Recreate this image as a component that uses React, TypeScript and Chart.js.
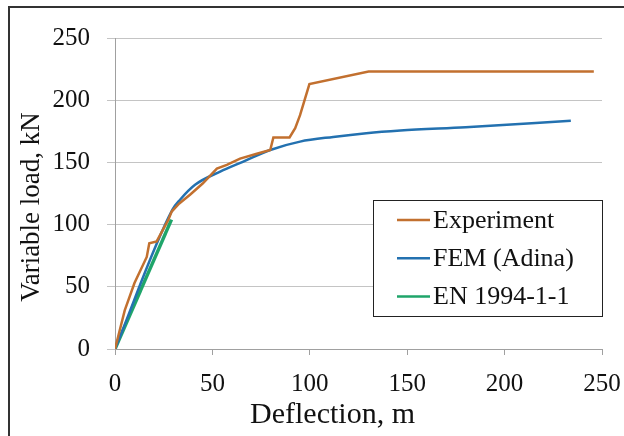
import React, { useEffect, useRef } from "react";
import { Chart, registerables } from "chart.js";

Chart.register(...registerables);

const seriesNames = ["Experiment", "FEM (Adina)", "EN 1994-1-1"];
const expX = [0, 5, 10, 16.3, 17.6, 21.4, 27.4, 29.1, 33, 38.5, 45, 52.3, 57.4, 64.2, 72.8, 79.7, 81.3, 89.6, 92.5, 95, 99.8, 130.2, 245.8];
const expY = [0, 31, 53, 74, 85, 86.5, 104, 110.5, 117, 124, 133, 145, 148, 153, 157, 160, 170, 170, 177.5, 188, 213, 223, 223];
const femX = [0, 29.5, 33.4, 41.1, 54, 65.9, 79.7, 95, 112, 129, 146.5, 180, 234];
const femY = [0, 112, 120, 132, 142.6, 150.7, 160, 166.7, 170.5, 173.5, 175.6, 178.3, 183.4];
const enX = [0, 29];
const enY = [0, 104];
const xTicks = [0, 50, 100, 150, 200, 250];
const yTicks = [0, 50, 100, 150, 200, 250];
const colors = ["#C2702F", "#2371B0", "#1FA56A"];
const FONT = "'Liberation Serif', 'Times New Roman', serif";

const pts = (xs: number[], ys: number[]) => xs.map((x, i) => ({ x, y: ys[i] }));

const decor = {
  id: "decor",
  beforeDraw(chart: any) {
    const ctx = chart.ctx;
    ctx.save();
    ctx.fillStyle = "#ffffff";
    ctx.fillRect(0, 0, chart.width, chart.height);
    ctx.fillStyle = "#333333";
    ctx.fillRect(8, 6, chart.width - 8, 2);
    ctx.fillRect(8, 6, 2, chart.height - 6);
    ctx.restore();
  },
  afterDraw(chart: any) {
    const ctx = chart.ctx;
    const ca = chart.chartArea;
    ctx.save();
    ctx.fillStyle = "#111111";
    ctx.font = `30px ${FONT}`;
    ctx.textAlign = "center";
    ctx.textBaseline = "alphabetic";
    ctx.fillText("Deflection, m", (ca.left + ca.right) / 2 - 26, 423);
    ctx.translate(39, 207);
    ctx.rotate(-Math.PI / 2);
    ctx.font = `27px ${FONT}`;
    ctx.fillText("Variable load, kN", 0, 0);
    ctx.restore();

    ctx.save();
    const bx = 373, by = 200, bw = 229, bh = 116;
    ctx.fillStyle = "#ffffff";
    ctx.fillRect(bx, by, bw, bh);
    ctx.strokeStyle = "#222222";
    ctx.lineWidth = 1;
    ctx.strokeRect(bx + 0.5, by + 0.5, bw, bh);
    ctx.font = `26px ${FONT}`;
    ctx.textAlign = "left";
    ctx.textBaseline = "middle";
    chart.data.datasets.forEach((ds: any, i: number) => {
      const y = 220 + i * 38.3;
      ctx.strokeStyle = ds.borderColor;
      ctx.lineWidth = 2.5;
      ctx.beginPath();
      ctx.moveTo(397, y);
      ctx.lineTo(430, y);
      ctx.stroke();
      ctx.fillStyle = "#111111";
      ctx.fillText(ds.label, 433, y + 1);
    });
    ctx.restore();
  },
};

export default function App() {
  const ref = useRef<HTMLCanvasElement>(null);
  useEffect(() => {
    if (!ref.current) return;
    const chart = new Chart(ref.current, {
      type: "line",
      data: {
        datasets: [
          { label: seriesNames[0], data: pts(expX, expY), borderColor: colors[0], borderWidth: 2.5, pointRadius: 0, tension: 0 },
          { label: seriesNames[1], data: pts(femX, femY), borderColor: colors[1], borderWidth: 2.5, pointRadius: 0, cubicInterpolationMode: "monotone" },
          { label: seriesNames[2], data: pts(enX, enY), borderColor: colors[2], borderWidth: 3.5, pointRadius: 0 },
        ],
      },
      options: {
        responsive: false,
        animation: false,
        layout: { padding: { left: 0, top: 38, right: 22, bottom: 0 } },
        plugins: { legend: { display: false }, tooltip: { enabled: false } },
        scales: {
          x: {
            type: "linear",
            min: 0,
            max: 250,
            afterBuildTicks: (s: any) => { s.ticks = xTicks.map((v) => ({ value: v })); },
            afterFit: (s: any) => { s.height = 87; s.paddingRight = 0; s.paddingLeft = 0; },
            grid: { drawOnChartArea: false, drawTicks: true, tickLength: 6, color: "#a0a0a0" },
            border: { color: "#a0a0a0", width: 1 },
            ticks: { font: { family: FONT, size: 25 }, color: "#111111", padding: 14, maxRotation: 0 },
          },
          y: {
            type: "linear",
            min: 0,
            max: 250,
            afterBuildTicks: (s: any) => { s.ticks = yTicks.map((v) => ({ value: v })); },
            afterFit: (s: any) => { s.width = 115; s.paddingTop = 0; s.paddingBottom = 0; },
            grid: { drawOnChartArea: true, drawTicks: true, tickLength: 8, color: "#c4c4c4" },
            border: { color: "#a0a0a0", width: 1 },
            ticks: { font: { family: FONT, size: 25 }, color: "#111111", padding: 17 },
          },
        },
      },
      plugins: [decor],
    } as any);
    return () => chart.destroy();
  }, []);
  return (
    <div style={{ position: "fixed", left: 0, top: 0, width: 624, height: 436 }}>
      <canvas ref={ref} width={624} height={436} style={{ display: "block" }} />
    </div>
  );
}
